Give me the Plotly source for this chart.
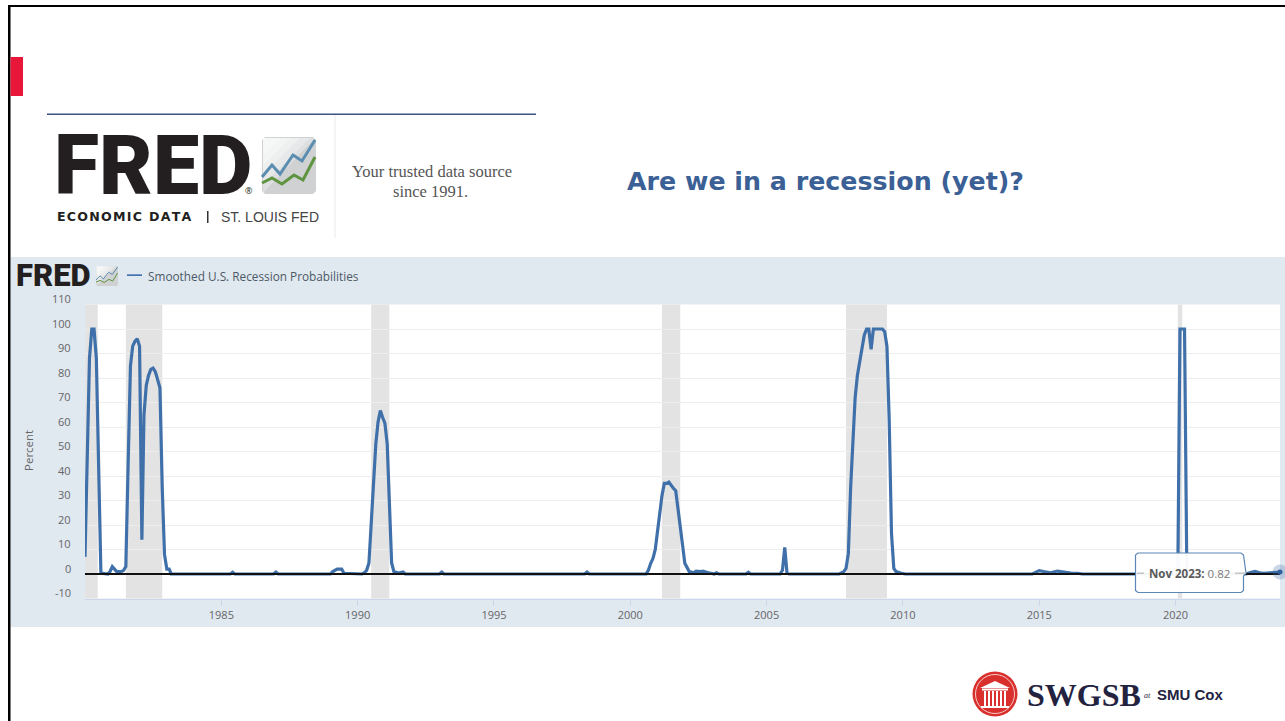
"""plot.py - slide with the FRED smoothed U.S. recession probabilities chart."""

import plotly.graph_objects as go

W, H = 1285, 721

# monthly readings, only the corners: flat stretches in between are straight lines at zero
months = [
    "1980-01", "1980-02", "1980-03", "1980-04", "1980-05", "1980-06", "1980-07", "1980-08",
    "1980-11", "1980-12", "1981-01", "1981-02", "1981-03", "1981-04", "1981-05", "1981-06",
    "1981-07", "1981-08", "1981-09", "1981-10", "1981-11", "1981-12", "1982-01", "1982-02",
    "1982-03", "1982-04", "1982-05", "1982-06", "1982-07", "1982-08", "1982-09", "1982-10",
    "1982-11", "1982-12", "1983-01", "1983-02", "1983-03",
    "1985-05", "1985-06", "1985-07", "1986-12", "1987-01", "1987-02",
    "1989-01", "1989-02", "1989-03", "1989-04", "1989-05", "1989-06", "1989-07",
    "1990-03", "1990-04", "1990-05", "1990-06", "1990-07", "1990-08", "1990-09", "1990-10",
    "1990-11", "1990-12", "1991-01", "1991-02", "1991-03", "1991-04", "1991-05", "1991-07",
    "1991-09", "1991-10", "1993-01", "1993-02", "1993-03", "1998-05", "1998-06", "1998-07",
    "2000-08", "2000-09", "2000-10", "2000-11", "2000-12", "2001-01", "2001-02", "2001-03",
    "2001-04", "2001-05", "2001-06", "2001-07", "2001-08", "2001-09", "2001-10", "2001-11",
    "2001-12", "2002-01", "2002-02", "2002-03", "2002-05", "2002-06", "2002-08", "2002-09",
    "2002-11", "2003-02", "2003-03", "2003-04", "2004-04", "2004-05", "2004-06",
    "2005-07", "2005-08", "2005-09", "2005-10", "2005-11",
    "2007-09", "2007-10", "2007-11", "2007-12", "2008-01", "2008-02", "2008-03", "2008-04",
    "2008-05", "2008-06", "2008-07", "2008-08", "2008-09", "2008-10", "2008-11", "2008-12",
    "2009-01", "2009-02", "2009-03", "2009-04", "2009-05", "2009-06", "2009-07", "2009-08",
    "2009-09", "2009-10", "2009-12", "2010-02",
    "2014-10", "2015-01", "2015-03", "2015-06", "2015-09", "2015-12", "2016-03", "2016-06", "2016-08",
    "2020-01", "2020-02", "2020-03", "2020-04", "2020-05", "2020-06",
    "2022-08", "2022-10", "2022-12", "2023-02", "2023-04", "2023-11",
]
probs = [
    7, 54, 88, 100, 100, 88, 41, 0.4,
    0, 1, 3, 2, 1, 1, 1, 1.5,
    3, 45, 85, 93, 95, 96, 93, 14,
    65, 77, 81, 83.5, 84, 82.5, 79, 76,
    35, 8, 2, 2, 0,
    0, 0.7, 0, 0, 0.8, 0,
    0, 1, 1.5, 2, 2, 2, 0.3,
    0, 0.5, 1.5, 4.5, 20.6, 40, 53, 62,
    66.7, 64, 61.5, 53, 26, 4.5, 1, 0.4,
    0.8, 0, 0, 0.8, 0, 0, 0.8, 0,
    0, 1.6, 4.4, 6.4, 10, 18, 25, 32,
    37, 37, 37.5, 36, 35, 34, 27.5, 20.7,
    12, 4.4, 2.7, 1, 0.5, 1.2, 1, 1.2,
    0.6, 0, 0.5, 0, 0, 0.7, 0,
    0, 1.5, 10.9, 0.3, 0,
    0, 0.4, 1, 2.3, 8.4, 35.6, 53, 72,
    81, 87, 92, 97.5, 100, 100, 91.7, 100,
    100, 100, 100, 100, 99, 93, 63, 16.6,
    2.3, 1, 0.4, 0,
    0, 1.4, 1, 0.5, 1.2, 0.7, 0.4, 0.3, 0,
    0, 0, 100, 100, 100, 0,
    0, 0.6, 1.1, 0.5, 0.3, 0.82,
]

recession_starts = ["1980-01-01", "1981-07-01", "1990-07-01", "2001-03-01", "2007-12-01", "2020-02-01"]
recession_ends = ["1980-06-20", "1982-11-01", "1991-03-01", "2001-11-01", "2009-06-01", "2020-04-01"]

x_ticks = ["1985-01-01", "1990-01-01", "1995-01-01", "2000-01-01", "2005-01-01", "2010-01-01", "2015-01-01", "2020-01-01"]
x_labels = ["1985", "1990", "1995", "2000", "2005", "2010", "2015", "2020"]
y_ticks = [-10, 0, 10, 20, 30, 40, 50, 60, 70, 80, 90, 100, 110]

BLUE = "#3f70aa"
SANS = "Open Sans"


def px(x):
    return x / W


def py(y):
    return 1 - y / H


def path(points, close=False):
    d = "M " + " L ".join(f"{px(x):.5f},{py(y):.5f}" for x, y in points)
    return d + " Z" if close else d


def rect(x0, y0, x1, y1, color, layer="above", **kw):
    return dict(type="rect", xref="paper", yref="paper", x0=px(x0), x1=px(x1), y0=py(y0), y1=py(y1),
                fillcolor=color, line={"width": 0}, layer=layer, **kw)


def poly(points, color=None, fill=None, width=2, close=False):
    return dict(type="path", xref="paper", yref="paper", path=path(points, close), layer="above",
                fillcolor=fill if fill else "rgba(0,0,0,0)",
                line={"color": color if color else "rgba(0,0,0,0)", "width": width if color else 0})


def circle(cx, cy, r, fill, color=None, width=0):
    return dict(type="circle", xref="paper", yref="paper", layer="above",
                x0=px(cx - r), x1=px(cx + r), y0=py(cy + r), y1=py(cy - r), fillcolor=fill,
                line={"color": color if color else "rgba(0,0,0,0)", "width": width})


def label(x, y, text, size, color, family=SANS, anchor="left", **kw):
    return dict(xref="paper", yref="paper", x=px(x), y=py(y), text=text, showarrow=False, xanchor=anchor,
                yanchor="middle", font={"family": family, "size": size, "color": color, **kw.pop("font", {})},
                borderpad=0, **kw)


def fred_icon(x0, y0, x1, y1, lw):
    """Grey tile with the blue and green zigzags of the FRED logo."""
    sx = (x1 - x0) / 54
    sy = (y1 - y0) / 57
    def scale(pts):
        return [(x0 + a * sx, y0 + b * sy) for a, b in pts]
    out = [poly(scale([(3, 0), (51, 0), (54, 3), (54, 54), (51, 57), (3, 57), (0, 54), (0, 3)]), fill="#cfd1d3", close=True)]
    for k in (60, 48, 38, 28, 18):
        out.append(poly(scale([(1, 1), (min(k, 53), 1), (1, min(k, 56))]), fill="rgba(255,255,255,0.3)", close=True))
    out.append(poly(scale([(0, 40), (10, 28), (18, 37), (31, 18), (40, 24), (53, 3)]), color="#5b8db0", width=lw))
    out.append(poly(scale([(0, 46), (10, 41), (20, 47), (32, 38), (41, 43), (53, 20)]), color="#5f9440", width=lw))
    return out


fig = go.Figure()
fig.add_trace(go.Scatter(x=months, y=probs, mode="lines", name="Smoothed U.S. Recession Probabilities",
                         line={"color": BLUE, "width": 3.2, "shape": "linear"}, cliponaxis=True))
# baseline at zero
fig.add_trace(go.Scatter(x=[months[0], months[-1]], y=[0, 0], mode="lines", showlegend=False,
                         line={"color": "#111111", "width": 2}))
# hovered point at the end of the series
fig.add_trace(go.Scatter(x=[months[-1]], y=[probs[-1]], mode="markers", showlegend=False, cliponaxis=False,
                         marker={"size": 15, "color": "rgba(63,112,170,0.28)"}))
fig.add_trace(go.Scatter(x=[months[-1]], y=[probs[-1]], mode="markers", showlegend=False, cliponaxis=False,
                         marker={"size": 5, "color": "#2f5f9c"}))

shapes = [
    rect(10.5, 257, W, 627, "#e0e8f0", layer="below"),
    rect(85, 304.5, 1280, 598.5, "#ffffff", layer="below"),
    rect(8, 5, W, 7, "#000000"),
    rect(8, 5, 10.5, H, "#000000"),
    rect(10.5, 57, 23, 96, "#e8173a"),
    rect(47, 113.5, 536, 115, "#3a5380"),
    rect(334.5, 115, 335.5, 238, "#e9e9e9"),
    rect(127, 274.3, 142, 276, "#4273ad"),
    rect(207, 211, 208.5, 223, "#333333"),
]
for start, end in zip(recession_starts, recession_ends):
    shapes.append(dict(type="rect", xref="x", yref="paper", x0=start, x1=end, y0=py(598.5), y1=py(304.5),
                       fillcolor="#e3e3e3", line={"width": 0}, layer="below"))
shapes += fred_icon(262, 137, 316, 194, 3)
shapes += fred_icon(96, 266, 118, 286, 1)

# tooltip
shapes.append(dict(type="path", xref="paper", yref="paper", layer="above", fillcolor="rgba(255,255,255,0.96)",
                   line={"color": "#5b86b8", "width": 1.2},
                   path=path([(1138, 553), (1241, 553), (1243.5, 555), (1246, 573), (1243.5, 576), (1243.5, 590.5),
                              (1241, 592.5), (1138, 592.5), (1135.5, 590.5), (1135.5, 555)], True)))
shapes.append(rect(1137, 572.5, 1144, 574, "#c4c4c4"))
shapes.append(rect(1235, 572.5, 1246, 574, "#c4c4c4"))

# SMU seal
shapes.append(circle(995, 694, 22.5, "#d9302e"))
shapes.append(circle(995, 694, 19.5, "rgba(0,0,0,0)", "#f4c9c5", 1))
shapes.append(poly([(980, 688), (995, 681), (1010, 688)], fill="#ffffff", close=True))
shapes.append(rect(982, 688.5, 1008, 690.5, "#ffffff"))
for cx in (985, 989, 993, 997, 1001, 1005):
    shapes.append(rect(cx - 1, 691, cx + 1, 706, "#ffffff"))
shapes.append(rect(981, 706, 1009, 708, "#ffffff"))

ann = [
    label(53, 165.5, "FRED", 82.5, "#231f20", family="Roboto", font={"weight": 900}),
    label(244, 190, "®", 9, "#231f20"),
    label(56, 217, "\u200a".join("ECONOMIC DATA"), 12.6, "#231f20", family="DejaVu Sans", font={"weight": 700}),
    label(220, 217, "ST. LOUIS FED", 14, "#444444", family="Liberation Sans"),
    label(432, 171, "Your trusted data source", 16.5, "#555555", family="Liberation Serif", anchor="center"),
    label(431, 191, "since 1991.", 16.5, "#555555", family="Liberation Serif", anchor="center"),
    label(626, 181, "Are we in a recession (yet)?", 25.3, "#3b6095", family="DejaVu Sans", font={"weight": 700}),
    label(15, 275.5, "FRED", 31, "#231f20", family="Roboto", font={"weight": 900}),
    label(147, 275.5, "Smoothed U.S. Recession Probabilities", 11.8, "#4d5a66"),
    label(28, 451, "Percent", 11.5, "#666666", anchor="center", textangle=-90),
    label(1148, 573, "<b>Nov 2023:</b> <span style='color:#7a7a7a'>0.82</span>", 11.5, "#5a5a5a"),
    label(1026, 695, "<b>SWGSB</b>", 32, "#23233f", family="Liberation Serif"),
    label(1143, 695, "<i>at</i>", 8, "#23233f", family="Liberation Serif"),
    label(1156, 694.5, "<b>SMU Cox</b>", 15, "#23233f", family="Liberation Sans"),
]
# y labels sit just above their gridlines
for v in y_ticks:
    ann.append(dict(xref="paper", yref="y", x=px(72.5), y=v, yshift=6, text=str(v), showarrow=False, xanchor="right",
                    yanchor="middle", font={"family": SANS, "size": 11, "color": "#666666"}))

fig.update_layout(
    width=W, height=H, margin={"l": 0, "r": 0, "t": 0, "b": 0}, autosize=False,
    paper_bgcolor="#ffffff", plot_bgcolor="rgba(0,0,0,0)", showlegend=False,
    shapes=shapes, annotations=ann,
    xaxis={"domain": [px(85), px(1280)], "range": ["1980-01-01", "2023-11-01"], "type": "date",
           "tickvals": x_ticks, "ticktext": x_labels, "ticks": "outside", "ticklen": 6, "tickcolor": "#ccd6eb",
           "showgrid": False, "showline": True, "linecolor": "#ccd6eb", "zeroline": False,
           "tickfont": {"family": SANS, "size": 11, "color": "#666666"}},
    yaxis={"domain": [py(598.5), py(304.5)], "range": [-10, 110], "tickvals": y_ticks, "showticklabels": False,
           "showgrid": True, "gridcolor": "#ededed", "gridwidth": 1, "zeroline": False, "showline": False},
)

# the page's default body margin would push the figure 8px in
fig.write_html("out.html", config={"displayModeBar": False},
               post_script="document.body.style.margin='0';document.body.style.overflow='hidden';")
